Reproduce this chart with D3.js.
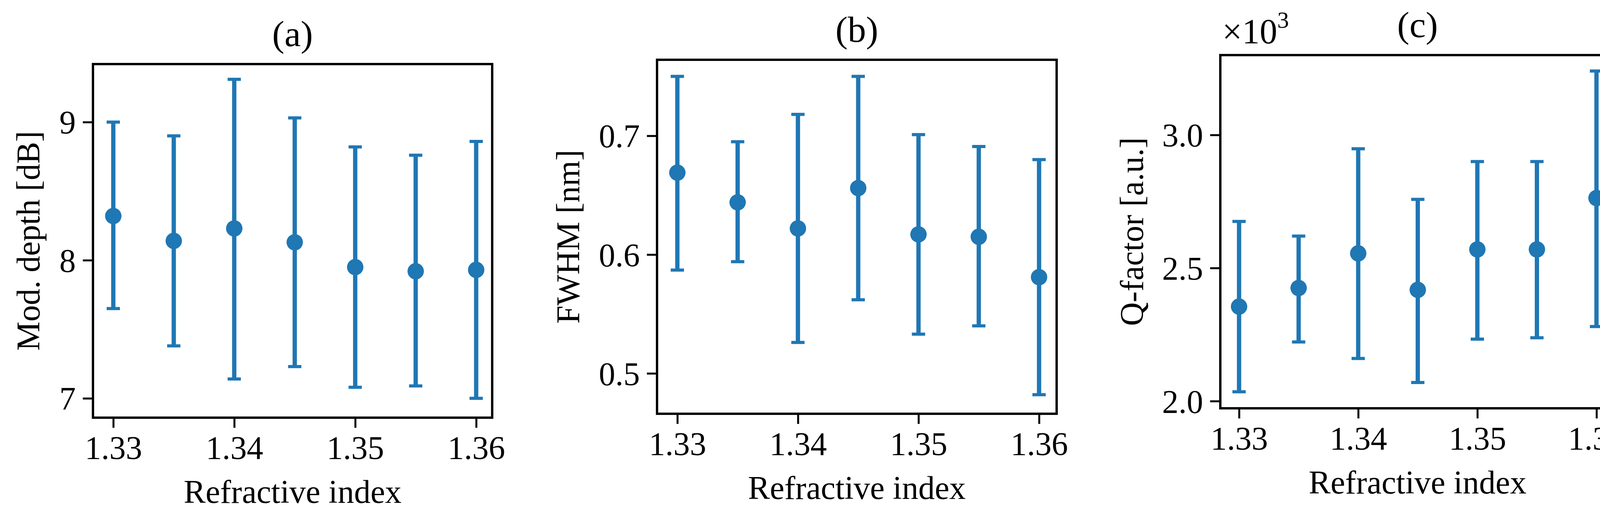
<!DOCTYPE html>
<html><head><meta charset="utf-8">
<script src="https://cdn.jsdelivr.net/npm/d3@7"></script>
<style>html,body{margin:0;padding:0;background:#fff;overflow:hidden}svg{display:block}</style></head>
<body><svg id="c" width="4171" height="1313"></svg>
<script>
const xs = [1.33,1.335,1.34,1.345,1.35,1.355,1.36];
const xTicks = [1.33,1.34,1.35,1.36];
const modMean = [8.32,8.14,8.23,8.13,7.95,7.92,7.93];
const modHi   = [9.0,8.9,9.31,9.03,8.82,8.76,8.86];
const modLo   = [7.65,7.38,7.14,7.23,7.08,7.09,7.0];
const fwMean = [0.669,0.644,0.622,0.656,0.617,0.615,0.581];
const fwHi   = [0.750,0.695,0.718,0.750,0.701,0.691,0.680];
const fwLo   = [0.587,0.594,0.526,0.562,0.533,0.540,0.482];
const qMean = [2.355,2.425,2.555,2.418,2.570,2.570,2.763];
const qHi   = [2.675,2.620,2.948,2.758,2.900,2.900,3.24];
const qLo   = [2.035,2.222,2.160,2.070,2.233,2.238,2.280];
const yTicksA = [7,8,9], yTicksB=[0.5,0.6,0.7], yTicksC=[2.0,2.5,3.0];

const svg = d3.select('#c');
const font = '"Liberation Serif","Times New Roman",serif';
const col = '#1f77b4';
const panels = [
 {L:238,R:1260,T:164,B:1069,x0:290,x1:1219,dom:[6.86,9.42],ticks:yTicksA,fmt:d3.format('d'),m:modMean,h:modHi,l:modLo,title:'(a)',ylab:'Mod. depth [dB]',ylx:72},
 {L:1682,R:2705,T:153,B:1059,x0:1734,x1:2660,dom:[0.466,0.764],ticks:yTicksB,fmt:d3.format('.1f'),m:fwMean,h:fwHi,l:fwLo,title:'(b)',ylab:'FWHM [nm]',ylx:1454},
 {L:3124,R:4134,T:141,B:1045,x0:3172,x1:4087,dom:[1.973,3.30],ticks:yTicksC,fmt:d3.format('.1f'),m:qMean,h:qHi,l:qLo,title:'(c)',ylab:'Q-factor [a.u.]',ylx:2897,mult:true}
];
panels.forEach(p=>{
  const x = d3.scaleLinear().domain([1.33,1.36]).range([p.x0,p.x1]);
  const y = d3.scaleLinear().domain(p.dom).range([p.B,p.T]);
  const g = svg.append('g');
  const xa = g.append('g').attr('transform',`translate(0,${p.B})`)
    .call(d3.axisBottom(x).tickValues(xTicks).tickFormat(d3.format('.2f')).tickSize(26).tickPadding(20));
  const ya = g.append('g').attr('transform',`translate(${p.L},0)`)
    .call(d3.axisLeft(y).tickValues(p.ticks).tickFormat(p.fmt).tickSize(26).tickPadding(18));
  [xa,ya].forEach(a=>{a.select('.domain').remove();
    a.selectAll('line').attr('stroke','#000').attr('stroke-width',5);
    a.selectAll('text').attr('font-family',font).attr('font-size',84).attr('fill','#000');});
  xa.selectAll('text').attr('dy','0.71em');
  ya.selectAll('text').attr('dy','0.35em');
  g.append('rect').attr('x',p.L).attr('y',p.T).attr('width',p.R-p.L).attr('height',p.B-p.T)
    .attr('fill','none').attr('stroke','#000').attr('stroke-width',6);
  xs.forEach((v,i)=>{
    const cx=x(v);
    g.append('line').attr('x1',cx).attr('x2',cx).attr('y1',y(p.l[i])).attr('y2',y(p.h[i])).attr('stroke',col).attr('stroke-width',11);
    [p.l[i],p.h[i]].forEach(e=>g.append('line').attr('x1',cx-17).attr('x2',cx+17).attr('y1',y(e)).attr('y2',y(e)).attr('stroke',col).attr('stroke-width',8));
    g.append('circle').attr('cx',cx).attr('cy',y(p.m[i])).attr('r',21).attr('fill',col);
  });
  const cx=(p.L+p.R)/2;
  g.append('text').attr('x',cx).attr('y',p.T-46).attr('text-anchor','middle').attr('font-family',font).attr('font-size',94).text(p.title);
  g.append('text').attr('x',cx).attr('y',p.B+218).attr('text-anchor','middle').attr('font-family',font).attr('font-size',84).text('Refractive index');
  g.append('text').attr('transform',`translate(${p.ylx},${(p.T+p.B)/2}) rotate(-90)`).attr('text-anchor','middle').attr('dy','0.35em').attr('font-family',font).attr('font-size',84).text(p.ylab);
  if(p.mult){
    const t=g.append('text').attr('x',p.L+5).attr('y',p.T-30).attr('font-family',font).attr('font-size',90);
    t.append('tspan').text('×10');
    t.append('tspan').attr('font-size',60).attr('dy',-40).text('3');
  }
});
</script></body></html>
